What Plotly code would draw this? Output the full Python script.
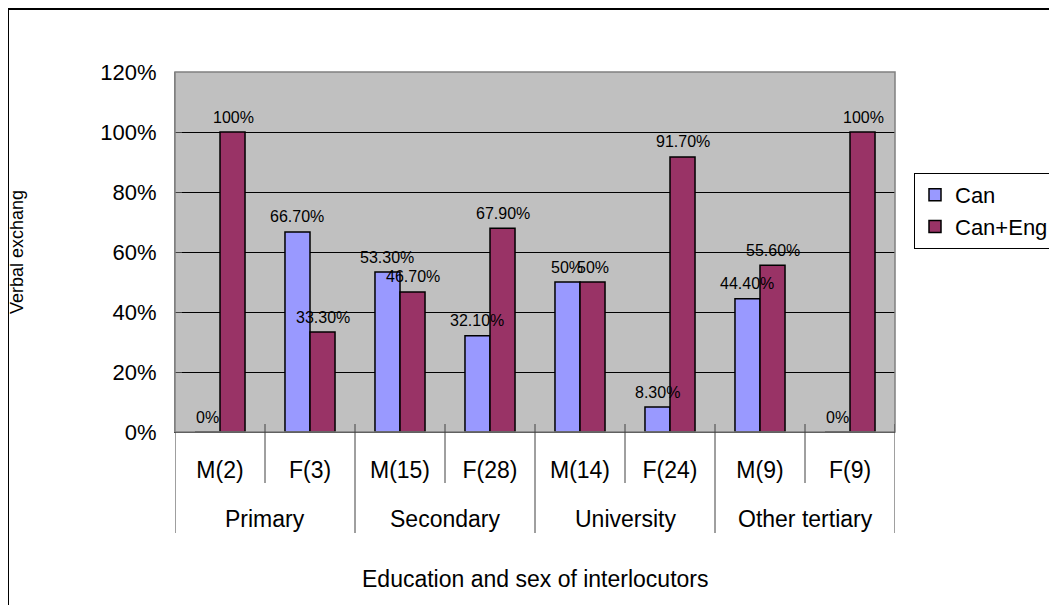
import plotly.graph_objects as go

# ---- data ----
subcategories = ["M(2)", "F(3)", "M(15)", "F(28)", "M(14)", "F(24)", "M(9)", "F(9)"]
groups = ["Primary", "Secondary", "University", "Other tertiary"]
group_sizes = [2, 2, 2, 2]
can = [0, 66.7, 53.3, 32.1, 50, 8.3, 44.4, 0]
can_eng = [100, 33.3, 46.7, 67.9, 50, 91.7, 55.6, 100]
y_ticks = [0, 20, 40, 60, 80, 100, 120]
y_tick_labels = ["0%", "20%", "40%", "60%", "80%", "100%", "120%"]

FONT = "Liberation Sans, Arial, sans-serif"


def fmt(v):
    return "%d%%" % v if float(v).is_integer() else "%.2f%%" % v


fig = go.Figure()
fig.add_trace(go.Bar(
    name="Can", x=subcategories, y=can,
    marker=dict(color="#9999FF", line=dict(color="black", width=1.5)),
    legendgroup="a",
))
fig.add_trace(go.Bar(
    name="Can+Eng", x=subcategories, y=can_eng,
    marker=dict(color="#993366", line=dict(color="black", width=1.5)),
    legendgroup="b",
))

# page geometry (pixels, page coordinates); the page body adds an 8px offset
OFF = 8
L, R, T, B = 175, 895, 72, 432
W, H = R - L, B - T


def px_x(p):
    return (p - L) / W


def px_y(p):
    return (B - p) / H


shapes = []
# plot area border
shapes.append(dict(type="rect", xref="paper", yref="paper", x0=0, x1=1, y0=0, y1=1,
                   line=dict(color="#808080", width=1.5)))
# outer chart border (left and top visible)
shapes.append(dict(type="rect", xref="paper", yref="paper",
                   x0=px_x(8), x1=px_x(1070), y0=px_y(620), y1=px_y(9),
                   line=dict(color="black", width=2)))

# dividers for category axis
idx = 0
bounds = [-0.5]
for gsize in group_sizes:
    for k in range(1, gsize):
        shapes.append(dict(type="line", xref="x", yref="paper",
                           x0=idx + k - 0.5, x1=idx + k - 0.5,
                           y0=px_y(424), y1=px_y(483),
                           line=dict(color="#404040", width=1)))
    idx += gsize
    bounds.append(idx - 0.5)
for i, b in enumerate(bounds):
    top = px_y(432) if i == 0 else px_y(424)
    shapes.append(dict(type="line", xref="x", yref="paper", x0=b, x1=b,
                       y0=top, y1=px_y(533),
                       line=dict(color="#404040", width=1)))

annotations = []
# data labels drawn on top of all bars
for vals, shift in ((can, -13), (can_eng, 13)):
    for cat, v in zip(subcategories, vals):
        annotations.append(dict(x=cat, y=v, xref="x", yref="y", text=fmt(v),
                                showarrow=False, xanchor="center", yanchor="middle",
                                xshift=shift, yshift=15,
                                font=dict(family=FONT, size=16, color="black")))
idx = 0
for g, gsize in zip(groups, group_sizes):
    center = idx + (gsize - 1) / 2
    annotations.append(dict(x=center, xref="x", y=px_y(519), yref="paper",
                            xanchor="center", yanchor="middle",
                            text=g, showarrow=False,
                            font=dict(family=FONT, size=23, color="black")))
    idx += gsize
annotations.append(dict(x=0.5, xref="paper", y=px_y(579), yref="paper",
                        xanchor="center", yanchor="middle",
                        text="Education and sex of interlocutors", showarrow=False,
                        font=dict(family=FONT, size=23, color="black")))
annotations.append(dict(x=px_x(17), xref="paper", y=0.5, yref="paper",
                        xanchor="center", yanchor="middle",
                        text="Verbal exchang", showarrow=False, textangle=-90,
                        font=dict(family=FONT, size=18, color="black")))

fig.update_layout(
    width=1057 - OFF, height=605 - OFF,
    margin=dict(l=L - OFF, r=1057 - R, t=T - OFF, b=605 - B, autoexpand=False),
    paper_bgcolor="white", plot_bgcolor="#C0C0C0",
    barmode="group", bargap=0.444, bargroupgap=0,
    font=dict(family=FONT, color="black"),
    shapes=shapes, annotations=annotations,
    legend=dict(x=px_x(914), y=px_y(173), xanchor="left", yanchor="top",
                bordercolor="black", borderwidth=1, bgcolor="white",
                font=dict(family=FONT, size=22, color="black"),
                tracegroupgap=14, traceorder="normal"),
    showlegend=True,
)
fig.update_xaxes(type="category", range=[-0.5, 7.5], showgrid=False, ticks="",
                 tickfont=dict(family=FONT, size=23, color="black"),
                 ticklabelstandoff=17, showline=True, linecolor="black", linewidth=1,
                 zeroline=False)
fig.update_yaxes(range=[0, 120], tickvals=y_ticks, ticktext=y_tick_labels,
                 tickfont=dict(family=FONT, size=22, color="black"),
                 showgrid=True, gridcolor="black", gridwidth=1,
                 ticks="inside", ticklen=7, tickcolor="#404040",
                 ticklabelstandoff=13, zeroline=False,
                 showline=True, linecolor="#808080", linewidth=1)

fig.write_html("out.html")
